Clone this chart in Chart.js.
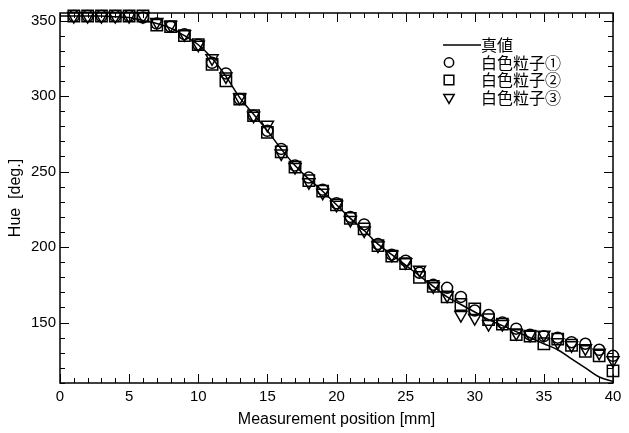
<!DOCTYPE html>
<html>
<head>
<meta charset="utf-8">
<script src="https://cdn.jsdelivr.net/npm/chart.js@4"></script>
<style>
  body { margin: 0; background: #fff; }
  #chart { display: block; }
</style>
</head>
<body>
<canvas id="chart" width="629" height="433"></canvas>
<script>
// measurement positions [mm]
const positions = [1, 2, 3, 4, 5, 6, 7, 8, 9, 10, 11, 12, 13, 14, 15, 16, 17, 18, 19, 20,
  21, 22, 23, 24, 25, 26, 27, 28, 29, 30, 31, 32, 33, 34, 35, 36, 37, 38, 39, 40];

// hue of white particles [deg.]
const particle1 = [353, 353, 353, 353, 353, 352, 348, 346, 341, 334, 322, 315, 298, 287, 277, 265, 254, 246, 238, 229,
  220, 215, 202, 195, 191, 183, 175, 173, 167, 158, 155, 150, 146, 142, 141, 140, 137, 136, 132, 128];
const particle2 = [353, 353, 353, 353, 353, 353, 347, 346, 340, 334, 321, 310, 298, 287, 276, 263, 253, 244, 237, 228,
  219, 212, 201, 194, 189, 180, 174, 167, 162, 159, 152, 149, 142, 141, 136, 139, 135, 131, 128, 118];
const particle3 = [353, 353, 353, 353, 353, 353, 349, 347, 341, 334, 325, 313, 299, 287, 281, 262, 253, 243, 236, 228,
  218, 211, 201, 195, 190, 185, 174, 168, 155, 153, 149, 149, 143, 142, 142, 137, 135, 133, 130, 125];

// true value curve
const truePositions = [0, 1, 2, 3, 4, 5, 6, 7, 8, 9, 10, 11, 12, 13, 14, 15, 16, 17, 18, 19, 20,
  21, 22, 23, 24, 25, 26, 27, 28, 29, 30, 31, 32, 33, 34, 35, 36, 37, 38, 39, 40];
const trueValues = [353, 353, 353, 353, 352.5, 352, 350, 348, 345, 340, 334, 325, 313, 299, 288, 277, 265, 254, 245, 237, 228,
  219, 211, 202, 195, 188, 181, 174, 167, 162, 157, 152, 148, 144, 140, 136, 132, 126, 120, 114, 111];

const xTicks = [0, 5, 10, 15, 20, 25, 30, 35, 40];
const yTicks = [150, 200, 250, 300, 350];

const labels = ["真値", "白色粒子①", "白色粒子②", "白色粒子③"];

const toXY = (xs, ys) => xs.map((x, i) => ({ x: x, y: ys[i] }));

const frameTicks = {
  id: "frameTicks",
  afterDraw(chart) {
    const ctx = chart.ctx;
    const { left, right, top, bottom } = chart.chartArea;
    const x = chart.scales.x, y = chart.scales.y;
    ctx.save();
    ctx.strokeStyle = "#000";
    ctx.lineWidth = 1.5;
    ctx.strokeRect(left, top, right - left, bottom - top);
    ctx.lineWidth = 1;
    ctx.beginPath();
    for (let v = 0; v <= 40; v++) {
      const px = Math.round(x.getPixelForValue(v)) + 0.5;
      const len = v % 5 === 0 ? 9 : 5;
      ctx.moveTo(px, bottom); ctx.lineTo(px, bottom - len);
      ctx.moveTo(px, top); ctx.lineTo(px, top + len);
    }
    for (let v = 110; v <= 355; v += 10) {
      const py = Math.round(y.getPixelForValue(v)) + 0.5;
      const len = v % 50 === 0 ? 9 : 5;
      ctx.moveTo(left, py); ctx.lineTo(left + len, py);
      ctx.moveTo(right, py); ctx.lineTo(right - len, py);
    }
    ctx.stroke();

    // legend
    const lx = 447, ly = 45, step = 17.5;
    ctx.font = "16px 'Noto Sans CJK JP'";
    ctx.textBaseline = "middle";
    ctx.lineWidth = 1.5;
    ctx.beginPath();
    ctx.moveTo(lx - 4, ly); ctx.lineTo(lx + 34, ly);
    ctx.stroke();
    ctx.fillStyle = "#000";
    ctx.fillText(labels[0], lx + 34, ly);
    for (let i = 1; i < 4; i++) {
      const ds = chart.data.datasets[i];
      const cy = ly + i * step;
      ctx.fillStyle = "rgba(0,0,0,0)";
      ctx.lineWidth = 1.5;
      Chart.helpers.drawPoint(ctx, {
        pointStyle: ds.pointStyle, radius: ds.pointRadius * 0.85,
        rotation: ds.pointRotation || 0, borderWidth: 1.5
      }, lx + 2, cy);
      ctx.fillStyle = "#000";
      ctx.fillText(labels[i], lx + 34, cy);
    }
    ctx.restore();
  }
};

const markerStyle = {
  borderColor: "#000",
  backgroundColor: "rgba(0,0,0,0)",
  borderWidth: 1.5,
  clip: false
};

new Chart(document.getElementById("chart"), {
  type: "scatter",
  data: {
    datasets: [
      {
        label: labels[0],
        data: toXY(truePositions, trueValues),
        showLine: true,
        borderColor: "#000",
        borderWidth: 1.5,
        pointRadius: 0,
        tension: 0.4,
        order: 4
      },
      Object.assign({
        label: labels[1],
        data: toXY(positions, particle1),
        pointStyle: "circle",
        pointRadius: 5.5
      }, markerStyle),
      Object.assign({
        label: labels[2],
        data: toXY(positions, particle2),
        pointStyle: "rect",
        pointRadius: 8
      }, markerStyle),
      Object.assign({
        label: labels[3],
        data: toXY(positions, particle3),
        pointStyle: "triangle",
        pointRotation: 180,
        pointRadius: 7
      }, markerStyle)
    ]
  },
  options: {
    responsive: false,
    animation: false,
    layout: { padding: { top: 12, right: 16, left: 0, bottom: 0 } },
    plugins: { legend: { display: false }, tooltip: { enabled: false } },
    scales: {
      x: {
        type: "linear",
        min: 0,
        max: 40,
        afterBuildTicks: s => { s.ticks = xTicks.map(v => ({ value: v })); },
        afterFit: s => { s.height = 50; },
        grid: { display: false, drawTicks: false },
        border: { display: false },
        ticks: { color: "#000", font: { family: "Liberation Sans", size: 15 }, padding: 5, maxRotation: 0 },
        title: {
          display: true,
          text: "Measurement position [mm]",
          color: "#000",
          font: { family: "Liberation Sans", size: 16 },
          padding: { top: 2 }
        }
      },
      y: {
        type: "linear",
        min: 110,
        max: 355,
        afterBuildTicks: s => { s.ticks = yTicks.map(v => ({ value: v })); },
        afterFit: s => { s.width = 60; },
        grid: { display: false, drawTicks: false },
        border: { display: false },
        ticks: { color: "#000", font: { family: "Liberation Sans", size: 15 }, padding: 4 },
        title: {
          display: true,
          text: "Hue  [deg.]",
          color: "#000",
          font: { family: "Liberation Sans", size: 16 },
          padding: { top: 6 }
        }
      }
    }
  },
  plugins: [frameTicks]
});
</script>
</body>
</html>
